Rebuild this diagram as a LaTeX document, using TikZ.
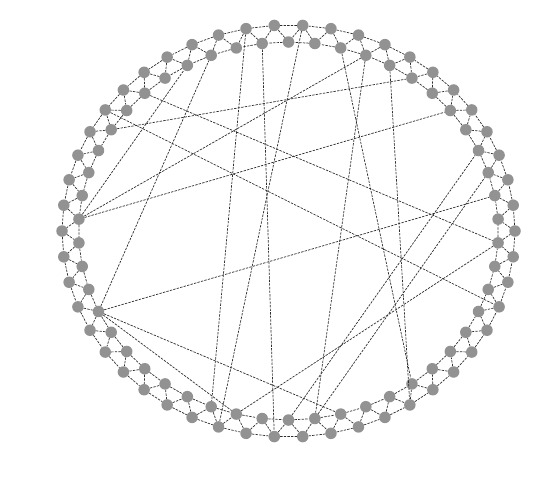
\documentclass[tikz,border=0pt]{standalone}
\usepackage{tikz}
\definecolor{vertc}{RGB}{146,146,146}
\definecolor{edgec}{RGB}{45,45,45}
\begin{document}
\begin{tikzpicture}[x=1pt,y=-1pt,
  vert/.style={circle,fill=vertc,inner sep=0pt,minimum size=11.5pt},
  link/.style={edgec,line width=.7pt,dash pattern=on 2.4pt off 1.2pt}]
\useasboundingbox (0,0) rectangle (535,483);
\foreach \k in {0,...,99}{
  \pgfmathsetmacro{\rx}{mod(\k,2)==0 ? 226.5 : 210}
  \pgfmathsetmacro{\ry}{mod(\k,2)==0 ? 206 : 189}
  \node[vert] (v\k) at ({288.5+\rx*cos(3.6*\k)},{231-\ry*sin(3.6*\k)}) {};
}
\foreach \k in {0,...,99}{
  \pgfmathtruncatemacro{\na}{mod(\k+1,100)}
  \pgfmathtruncatemacro{\nb}{mod(\k+2,100)}
  \draw[link] (v\k)--(v\na) (v\k)--(v\nb);
}
\foreach \p/\q in {49/11,49/19,49/33,41/15,40/94,37/99,57/3,57/31,57/79,57/71,
  28/69,27/74,24/70,21/85,19/77,17/84,71/99,75/7,77/5}{\draw[link] (v\p)--(v\q);}
\end{tikzpicture}
\end{document}
